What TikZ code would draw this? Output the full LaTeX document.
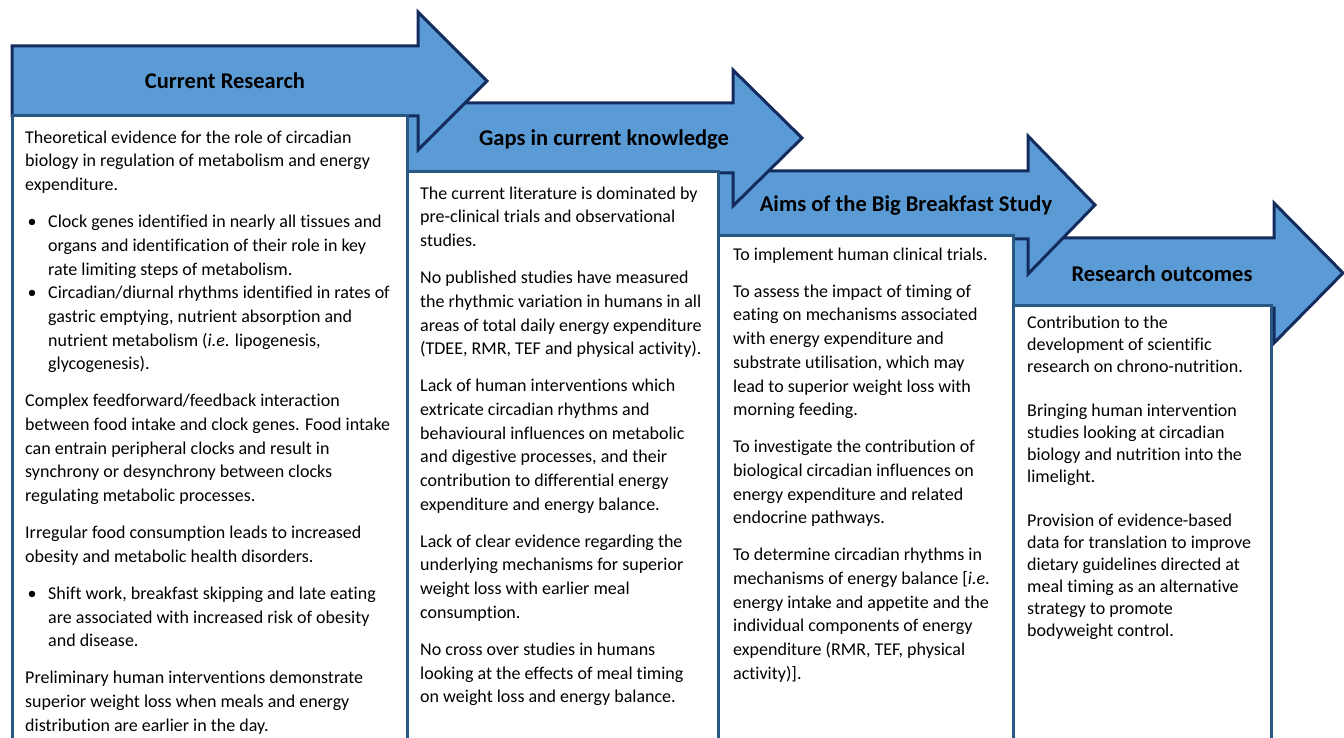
\documentclass[tikz,border=0pt]{standalone}
\usepackage{fontspec}
\setmainfont{Carlito}[Ligatures=NoCommon]
\definecolor{arrowfill}{HTML}{5B9BD5}
\definecolor{arrowline}{HTML}{142B5E}
\definecolor{boxline}{HTML}{285783}
\newcommand\fstrut{\rule{0pt}{15pt}}
\newcommand\bitem{\makebox[23pt][l]{\hspace{2.5pt}\textbullet}}
\newcommand\bind{\hspace*{23pt}}
\begin{document}
\begin{tikzpicture}[x=1pt,y=-1pt,
  barrow/.style={fill=arrowfill,draw=arrowline,line width=3pt,line join=miter},
  panel/.style={fill=white,draw=boxline,line width=3pt},
  ttl/.style={font=\fontsize{22.5}{26}\selectfont\bfseries,anchor=base,inner sep=0pt},
  body/.style={font=\fontsize{18}{23.7}\selectfont,anchor=north west,align=left,inner sep=0pt},
  bodyfour/.style={body,font=\fontsize{18}{22}\selectfont}]
\clip (0,0) rectangle (1344,738);
\fill[white] (0,0) rectangle (1344,738);

% ---- Arrow 4 and panel 4
\draw[barrow] (1013,238) -- (1274,238) -- (1274,203) -- (1343,273) -- (1274,343) -- (1274,308) -- (1013,308) -- cycle;
\node[ttl] (h4) at (1162,281) {Research outcomes};
\draw[panel] (1013,305) rectangle (1271,760);
\node[bodyfour] (t4) at (1027,313) {\fstrut Contribution to the\\
development of scientific\\
research on chrono-nutrition.\\[22pt]
Bringing human intervention\\
studies looking at circadian\\
biology and nutrition into the\\
limelight.\\[22pt]
Provision of evidence-based\\
data for translation to improve\\
dietary guidelines directed at\\
meal timing as an alternative\\
strategy to promote\\
bodyweight control.};

% ---- Arrow 3 and panel 3
\draw[barrow] (718,171) -- (1028,171) -- (1028,136) -- (1095,205) -- (1028,274) -- (1028,239) -- (718,239) -- cycle;
\node[ttl] (h3) at (906,212) {Aims of the Big Breakfast Study};
\draw[panel] (718,236) rectangle (1013,760);
\node[body] (t3) at (733,245) {\fstrut To implement human clinical trials.\\[13.3pt]
To assess the impact of timing of\\
eating on mechanisms associated\\
with energy expenditure and\\
substrate utilisation, which may\\
lead to superior weight loss with\\
morning feeding.\\[13.3pt]
To investigate the contribution of\\
biological circadian influences on\\
energy expenditure and related\\
endocrine pathways.\\[13.3pt]
To determine circadian rhythms in\\
mechanisms of energy balance [\textit{i.e}.\\
energy intake and appetite and the\\
individual components of energy\\
expenditure (RMR, TEF, physical\\
activity)].};

% ---- Arrow 2 and panel 2
\draw[barrow] (405,103) -- (733,103) -- (733,70) -- (802,138) -- (733,206) -- (733,173) -- (405,173) -- cycle;
\node[ttl] (h2) at (604,146) {Gaps in current knowledge};
\draw[panel] (407,172) rectangle (718,760);
\node[body] (t2) at (420,184) {\fstrut The current literature is dominated by\\
pre-clinical trials and observational\\
studies.\\[13.3pt]
No published studies have measured\\
the rhythmic variation in humans in all\\
areas of total daily energy expenditure\\
(TDEE, RMR, TEF and physical activity).\\[13.3pt]
Lack of human interventions which\\
extricate circadian rhythms and\\
behavioural influences on metabolic\\
and digestive processes, and their\\
contribution to differential energy\\
expenditure and energy balance.\\[13.3pt]
Lack of clear evidence regarding the\\
underlying mechanisms for superior\\
weight loss with earlier meal\\
consumption.\\[13.3pt]
No cross over studies in humans\\
looking at the effects of meal timing\\
on weight loss and energy balance.};

% ---- Arrow 1 and panel 1
\draw[barrow] (12,46) -- (418,46) -- (418,12) -- (487,81) -- (418,150) -- (418,116) -- (12,116) -- cycle;
\node[ttl] (h1) at (225,89) {Current Research};
\draw[panel] (12,116) rectangle (407,760);
\node[body] (t1) at (25,128) {\fstrut Theoretical evidence for the role of circadian\\
biology in regulation of metabolism and energy\\
expenditure.\\[13.3pt]
\bitem Clock genes identified in nearly all tissues and\\
\bind organs and identification of their role in key\\
\bind rate limiting steps of metabolism.\\
\bitem Circadian/diurnal rhythms identified in rates of\\
\bind gastric emptying, nutrient absorption and\\
\bind nutrient metabolism (\textit{i.e}. lipogenesis,\\
\bind glycogenesis).\\[13.3pt]
Complex feedforward/feedback interaction\\
between food intake and clock genes. Food intake\\
can entrain peripheral clocks and result in\\
synchrony or desynchrony between clocks\\
regulating metabolic processes.\\[13.3pt]
Irregular food consumption leads to increased\\
obesity and metabolic health disorders.\\[13.3pt]
\bitem Shift work, breakfast skipping and late eating\\
\bind are associated with increased risk of obesity\\
\bind and disease.\\[13.3pt]
Preliminary human interventions demonstrate\\
superior weight loss when meals and energy\\
distribution are earlier in the day.};
\end{tikzpicture}
\end{document}
